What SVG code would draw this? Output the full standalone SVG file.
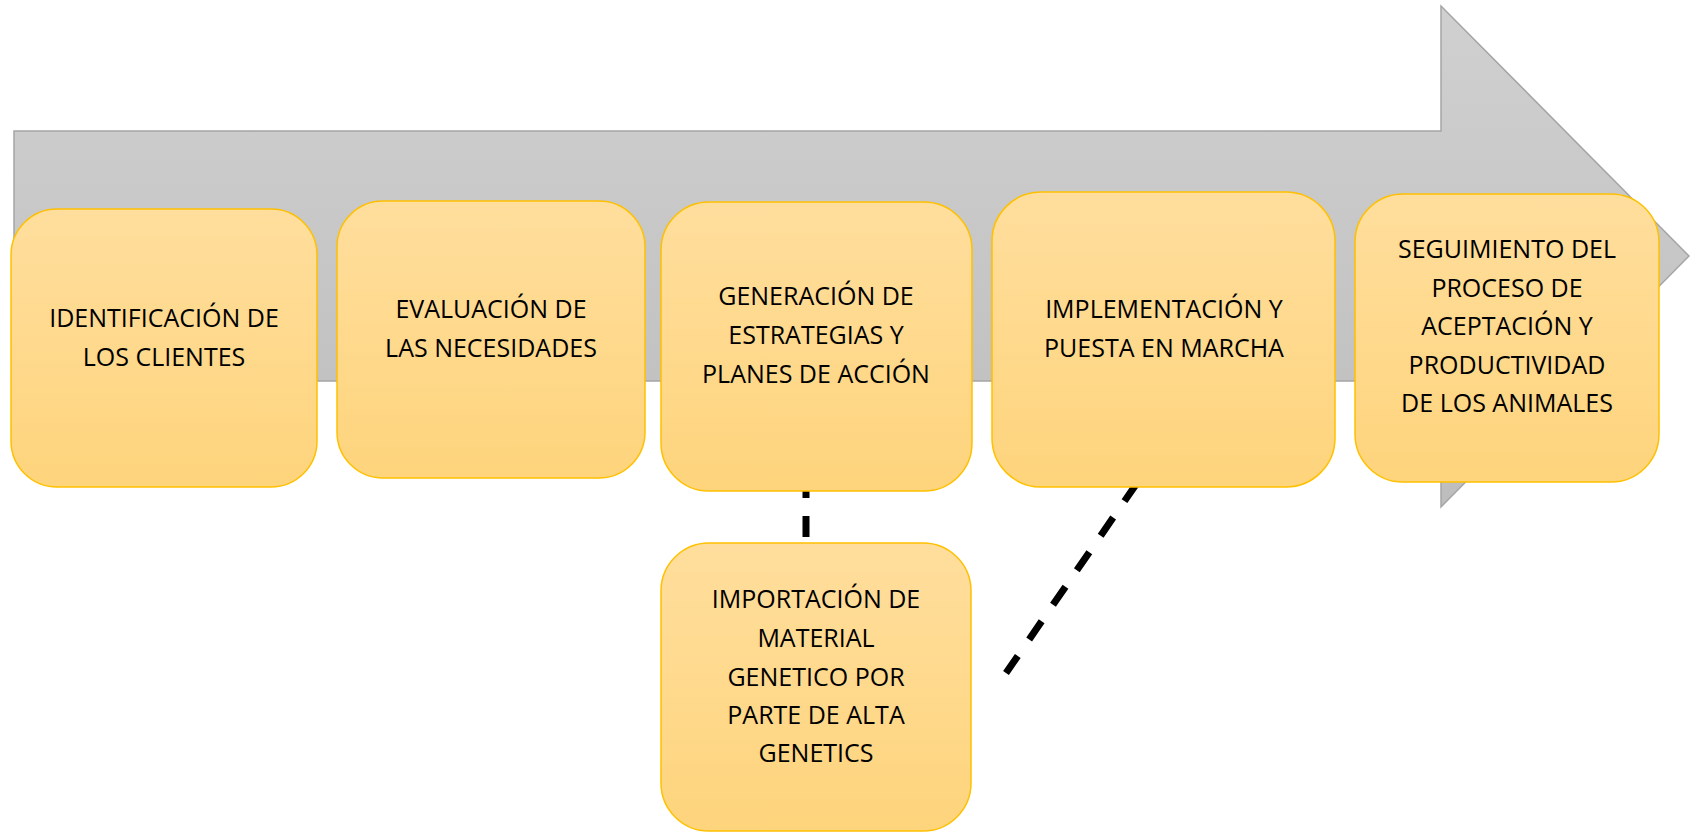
<svg xmlns="http://www.w3.org/2000/svg" width="1690" height="832" viewBox="0 0 1690 832">
<defs>
<linearGradient id="gGray" x1="0" y1="0" x2="0" y2="1">
<stop offset="0" stop-color="#d0d0d0"/>
<stop offset="1" stop-color="#bdbdbd"/>
</linearGradient>
<linearGradient id="gGold" x1="0" y1="0" x2="0" y2="1">
<stop offset="0" stop-color="#ffde9d"/>
<stop offset="1" stop-color="#fed47c"/>
</linearGradient>
<style>
.box{fill:url(#gGold);stroke:#ffc000;stroke-width:1.5}
.lbl{font-family:"Open Sans","Liberation Sans",sans-serif;font-size:25px;fill:#000;text-anchor:middle}
.dash{stroke:#000;stroke-width:7;fill:none;stroke-linecap:butt}
</style>
</defs>
<rect width="1690" height="832" fill="#ffffff"/>
<g id="arrow">
<polygon points="14,131 1441,131 1441,6 1689,256 1441,507 1441,381 14,381" fill="url(#gGray)" stroke="#a5a5a5" stroke-width="1.5"/>
</g>
<g id="connectors">
<line class="dash" x1="806" y1="473" x2="806" y2="537" stroke-dasharray="25 18"/>
<line class="dash" x1="1137" y1="483" x2="1006" y2="673" stroke-dasharray="22 20"/>
</g>
<g id="n1">
<rect class="box" x="11" y="209" width="306" height="278" rx="46"/>
<text class="lbl"><tspan x="164" y="327">IDENTIFICACIÓN DE</tspan><tspan x="164" y="366">LOS CLIENTES</tspan></text>
</g>
<g id="n2">
<rect class="box" x="337" y="201" width="308" height="277" rx="46"/>
<text class="lbl"><tspan x="491" y="318">EVALUACIÓN DE</tspan><tspan x="491" y="357">LAS NECESIDADES</tspan></text>
</g>
<g id="n3">
<rect class="box" x="661" y="202" width="311" height="289" rx="48"/>
<text class="lbl"><tspan x="816" y="305">GENERACIÓN DE</tspan><tspan x="816" y="344">ESTRATEGIAS Y</tspan><tspan x="816" y="383">PLANES DE ACCIÓN</tspan></text>
</g>
<g id="n4">
<rect class="box" x="661" y="543" width="310" height="288" rx="48"/>
<text class="lbl"><tspan x="816" y="608">IMPORTACIÓN DE</tspan><tspan x="816" y="647">MATERIAL</tspan><tspan x="816" y="686">GENETICO POR</tspan><tspan x="816" y="724">PARTE DE ALTA</tspan><tspan x="816" y="762">GENETICS</tspan></text>
</g>
<g id="n5">
<rect class="box" x="992" y="192" width="343" height="295" rx="49"/>
<text class="lbl"><tspan x="1164" y="318">IMPLEMENTACIÓN Y</tspan><tspan x="1164" y="357">PUESTA EN MARCHA</tspan></text>
</g>
<g id="n6">
<rect class="box" x="1355" y="194" width="304" height="288" rx="48"/>
<text class="lbl"><tspan x="1507" y="258">SEGUIMIENTO DEL</tspan><tspan x="1507" y="297">PROCESO DE</tspan><tspan x="1507" y="335">ACEPTACIÓN Y</tspan><tspan x="1507" y="374">PRODUCTIVIDAD</tspan><tspan x="1507" y="412">DE LOS ANIMALES</tspan></text>
</g>
</svg>
